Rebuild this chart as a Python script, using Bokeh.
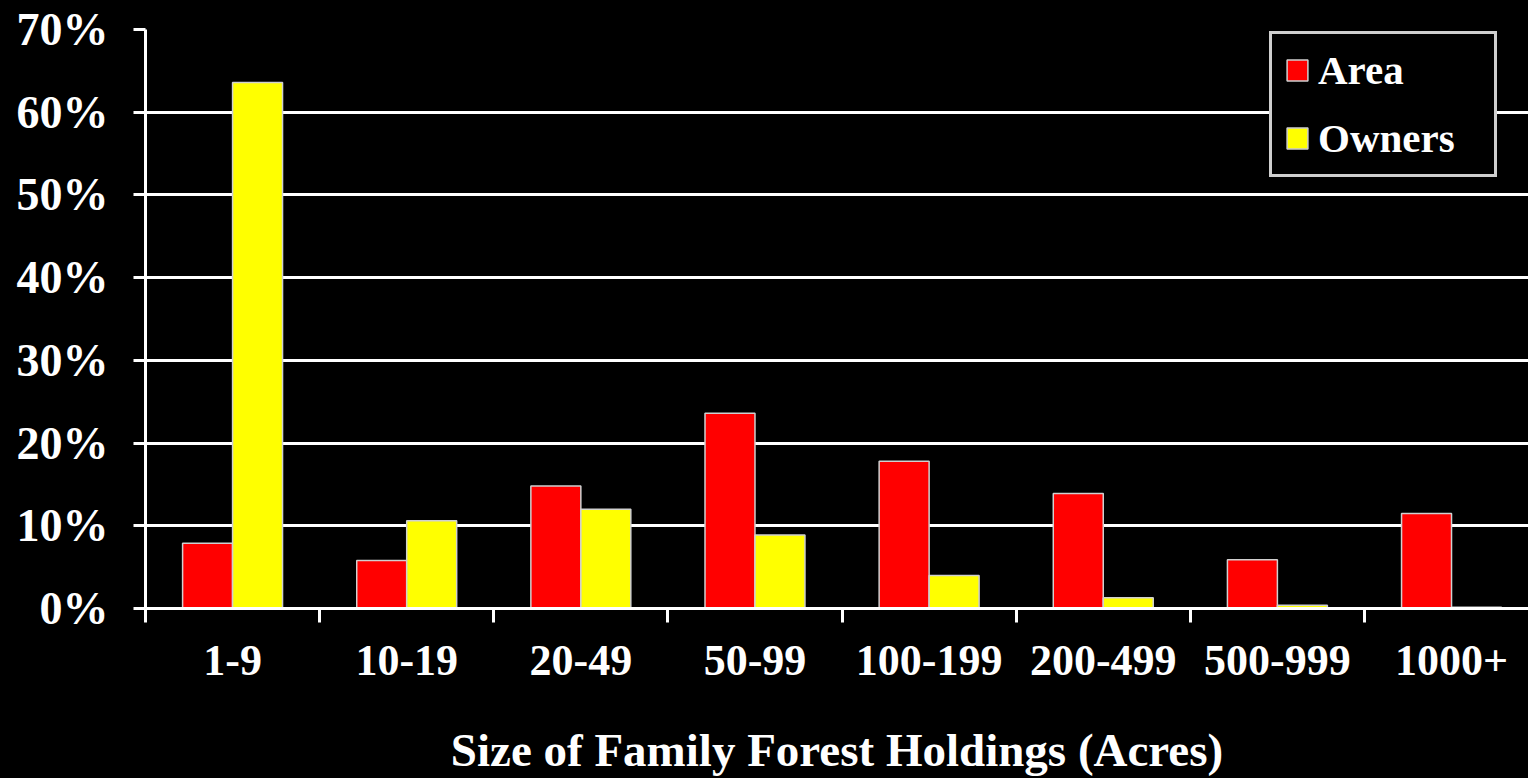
import numpy as np
from bokeh.plotting import figure
from bokeh.models import (ColumnDataSource, Range1d, FixedTicker, CustomJSTickFormatter,
                          PrintfTickFormatter, Legend, LegendItem)
from bokeh.transform import dodge
from bokeh.embed import file_html
from bokeh.resources import INLINE

categories = ["1-9", "10-19", "20-49", "50-99", "100-199", "200-499", "500-999", "1000+"]
area = [7.9, 5.8, 14.8, 23.6, 17.8, 13.9, 5.9, 11.5]
owners = [63.6, 10.6, 12.0, 8.9, 4.0, 1.3, 0.4, 0.15]
y_ticks = [0, 10, 20, 30, 40, 50, 60, 70]

FONT = "Liberation Serif"
WHITE = "#ffffff"

idx = np.arange(len(categories))
src = ColumnDataSource(dict(x=idx + 0.5, area=area, owners=owners, cat=categories))

p = figure(width=1528, height=778, output_backend="svg", toolbar_location=None,
           x_range=Range1d(0, 7.942), y_range=Range1d(0, 70),
           background_fill_color="black", border_fill_color="black",
           min_border_left=145, min_border_right=0, min_border_top=29, min_border_bottom=170)
p.outline_line_color = None

bw = 0.287
r_area = p.vbar(x=dodge("x", -bw / 2, range=p.x_range), top="area", width=bw, source=src,
                fill_color="#ff0000", line_color="#d0d0d0", line_width=1.5)
r_own = p.vbar(x=dodge("x", bw / 2, range=p.x_range), top="owners", width=bw, source=src,
               fill_color="#ffff00", line_color="#d0d0d0", line_width=1.5)

# grid
p.xgrid.grid_line_color = None
p.ygrid.grid_line_color = WHITE
p.ygrid.grid_line_width = 3
p.ygrid.ticker = FixedTicker(ticks=y_ticks)
p.ygrid.level = "underlay"

# y axis
ya = p.yaxis[0]
ya.ticker = FixedTicker(ticks=y_ticks)
ya.formatter = PrintfTickFormatter(format="%d%%")
ya.axis_line_color = WHITE
ya.axis_line_width = 3
ya.major_tick_line_color = WHITE
ya.major_tick_line_width = 3
ya.major_tick_out = 12
ya.major_tick_in = 0
ya.minor_tick_line_color = None
ya.major_label_standoff = 25
ya.major_label_text_font = FONT
ya.major_label_text_font_style = "bold"
ya.major_label_text_font_size = "46px"
ya.major_label_text_color = WHITE

# x axis
xa = p.xaxis[0]
xa.ticker = FixedTicker(ticks=list(idx + 0.5), minor_ticks=list(idx.astype(float)))
xa.formatter = CustomJSTickFormatter(args=dict(labels=categories),
                                     code="const i = Math.floor(tick); return labels[i] || '';")
xa.axis_line_color = WHITE
xa.axis_line_width = 3
xa.major_tick_line_color = None
xa.major_tick_out = 14
xa.major_tick_in = 0
xa.minor_tick_line_color = WHITE
xa.minor_tick_line_width = 3
xa.minor_tick_out = 14
xa.minor_tick_in = 0
xa.major_label_standoff = 23
xa.major_label_text_font = FONT
xa.major_label_text_font_style = "bold"
xa.major_label_text_font_size = "44px"
xa.major_label_text_color = WHITE
xa.axis_label = "Size of Family Forest Holdings (Acres)"
xa.axis_label_text_font = FONT
xa.axis_label_text_font_style = "bold"
xa.axis_label_text_font_size = "47px"
xa.axis_label_text_color = WHITE
xa.axis_label_standoff = 46

legend = Legend(items=[LegendItem(label="Area", renderers=[r_area]),
                       LegendItem(label="Owners", renderers=[r_own])],
                location=(1124, 431))
legend.background_fill_color = "black"
legend.background_fill_alpha = 1
legend.border_line_color = "#cfcfcf"
legend.border_line_alpha = 1
legend.border_line_width = 3
legend.label_text_font = FONT
legend.label_text_font_style = "bold"
legend.label_text_font_size = "41px"
legend.label_text_color = WHITE
legend.glyph_width = 26
legend.glyph_height = 26
legend.label_standoff = 8
legend.padding = 12
legend.spacing = 20
legend.label_width = 164
p.add_layout(legend, "center")

html = file_html(p, INLINE)
html = html.replace("<head>", "<head><style>html,body{background:#000;}</style>", 1)
open("out.html", "w").write(html)
